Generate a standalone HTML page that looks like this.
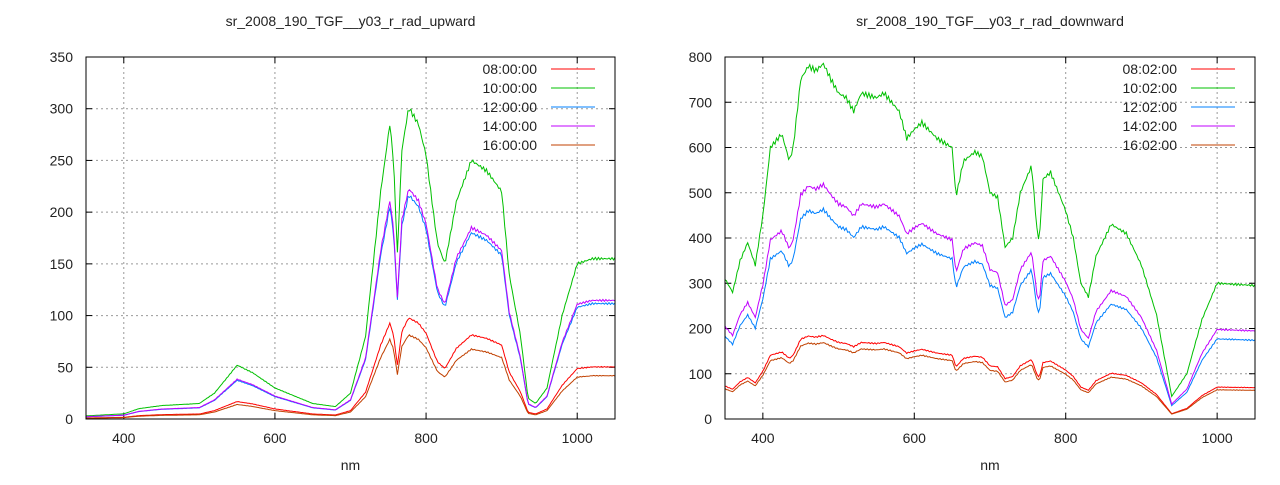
<!DOCTYPE html><html><head><style>body{margin:0;background:#fff}svg text{font-family:"Liberation Sans",sans-serif;font-size:14px;fill:#222}</style></head><body>
<svg id="s" width="1280" height="480" xmlns="http://www.w3.org/2000/svg"></svg>
<script>
const S=document.getElementById('s');let h='';
function lerp(k,x){for(let i=0;i<k.length-1;i++){if(x<=k[i+1][0]){const t=(x-k[i][0])/(k[i+1][0]-k[i][0]);return k[i][1]+t*(k[i+1][1]-k[i][1]);}}return k[k.length-1][1];}
const up=[[350,3],[400,5],[420,10],[450,13],[500,15],[520,25],[550,52],[570,45],[600,30],[650,15],[680,12],[700,25],[720,80],[740,220],[752,285],[757,250],[762,160],[768,260],[777,301],[790,285],[800,255],[815,170],[825,150],[840,210],[860,250],[880,240],[900,220],[910,140],[925,80],[935,20],[945,15],[960,30],[980,100],[1000,150],[1020,155],[1050,155]];
const dn=[[350,310],[360,280],[370,350],[380,390],[390,340],[400,450],[410,600],[420,620],[425,630],[435,570],[440,600],[450,750],[460,780],[470,770],[480,785],[490,750],[500,720],[510,710],[520,680],[530,720],[550,710],[560,720],[580,680],[590,620],[600,640],[610,655],[630,620],[650,600],[655,490],[665,570],[680,590],[690,580],[700,500],[710,490],[720,380],[730,400],[740,500],[755,560],[762,420],[765,390],[770,530],[780,545],[800,460],[810,400],[820,300],[830,270],[840,360],[860,430],[880,410],[900,340],[920,230],[940,50],[960,100],[980,220],[1000,300],[1050,295]];
function plot(o){const {x0,x1,y0,y1,ymax,ystep,title,data,ser,labs,lx}=o;
const X=v=>x0+(v-350)/700*(x1-x0),Y=v=>y0-v/ymax*(y0-y1);
h+=`<text x="${(x0+x1)/2}" y="26" text-anchor="middle">${title}</text>`;
for(let v=400;v<=1000;v+=200){const x=X(v);h+=`<line x1="${x}" y1="${y1}" x2="${x}" y2="${y0}" stroke="#999" stroke-dasharray="2,3"/><line x1="${x}" y1="${y0}" x2="${x}" y2="${y0-6}" stroke="#000"/><line x1="${x}" y1="${y1}" x2="${x}" y2="${y1+6}" stroke="#000"/><text x="${x}" y="443" text-anchor="middle">${v}</text>`;}
for(let v=0;v<=ymax;v+=ystep){const y=Y(v);if(v>0&&v<ymax)h+=`<line x1="${x0}" y1="${y}" x2="${x1}" y2="${y}" stroke="#999" stroke-dasharray="2,3"/>`;h+=`<line x1="${x0}" y1="${y}" x2="${x0+6}" y2="${y}" stroke="#000"/><line x1="${x1}" y1="${y}" x2="${x1-6}" y2="${y}" stroke="#000"/><text x="${x0-13}" y="${y+5}" text-anchor="end">${v}</text>`;}
h+=`<text x="${(x0+x1)/2}" y="470" text-anchor="middle">nm</text>`;
ser.forEach((s,i)=>{let p=[];for(let n=350;n<=1050;n+=2){const w=Math.sin(n*1.7+i)*0.008+1;p.push(X(n).toFixed(1)+','+Y(lerp(data,n)*s[1]*w).toFixed(1));}
h+=`<polyline points="${p.join(' ')}" fill="none" stroke="${s[0]}" stroke-width="1"/>`;});
[0,1,2,3,4].forEach(i=>{const y=69+i*19;h+=`<text x="${lx}" y="${y+5}" text-anchor="end">${labs[i]}</text><line x1="${lx+14}" y1="${y}" x2="${lx+58}" y2="${y}" stroke="${ser[i][0]}"/>`;});
h+=`<rect x="${x0}" y="${y1}" width="${x1-x0}" height="${y0-y1}" fill="none" stroke="#000"/>`;}
const cols=['#ff0000','#00c000','#0080ff','#c000ff','#c04000'];
plot({x0:86,x1:615,y0:419,y1:57,ymax:350,ystep:50,title:'sr_2008_190_TGF__y03_r_rad_upward',data:up,
ser:[[cols[0],0.325],[cols[1],1],[cols[2],0.72],[cols[3],0.74],[cols[4],0.27]],labs:['08:00:00','10:00:00','12:00:00','14:00:00','16:00:00'],lx:537});
plot({x0:725,x1:1255,y0:419,y1:57,ymax:800,ystep:100,title:'sr_2008_190_TGF__y03_r_rad_downward',data:dn,
ser:[[cols[0],0.235],[cols[1],1],[cols[2],0.59],[cols[3],0.66],[cols[4],0.215]],labs:['08:02:00','10:02:00','12:02:00','14:02:00','16:02:00'],lx:1177});
S.innerHTML=h;
</script></body></html>
